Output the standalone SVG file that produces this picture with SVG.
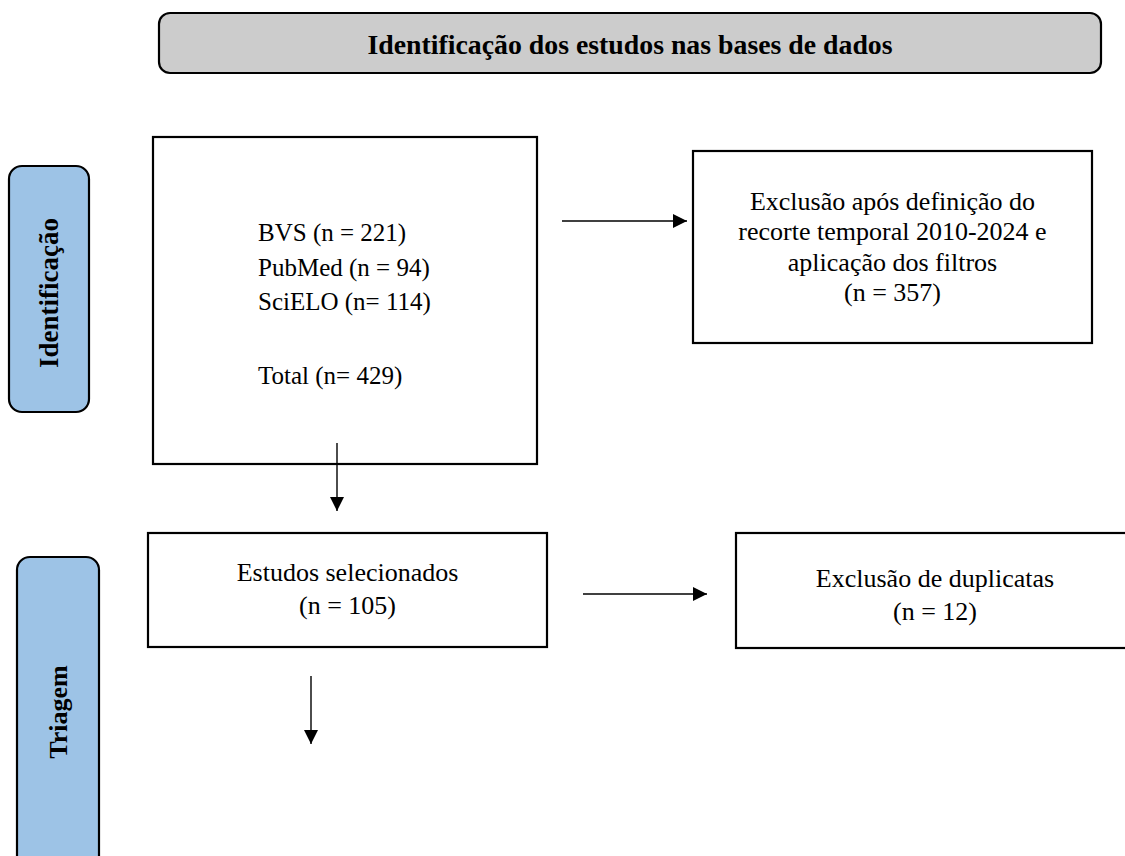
<svg xmlns="http://www.w3.org/2000/svg" width="1125" height="856" viewBox="0 0 1125 856">
<style>
.box{fill:#ffffff;stroke:#000;stroke-width:2.2}
.banner{fill:#cccccc;stroke:#000;stroke-width:2.2}
.side{fill:#9dc3e6;stroke:#000;stroke-width:2.2}
.t{font-family:"Liberation Serif","Times New Roman",serif;font-size:26px;fill:#000}
.b{font-family:"Liberation Serif","Times New Roman",serif;font-size:26px;font-weight:bold;fill:#000}
.c{text-anchor:middle}
.conn line{stroke:#000;stroke-width:1.4;fill:none}
</style>
<defs>
<marker id="ah" markerUnits="userSpaceOnUse" markerWidth="16" markerHeight="16" refX="14" refY="7" orient="auto">
<path d="M0,0 L14,7 L0,14 Z" fill="#000"/>
</marker>
</defs>
<rect width="1125" height="856" fill="#ffffff"/>
<g id="banner">
<rect class="banner" x="159" y="13" width="942" height="60" rx="11"/>
<text class="b c" x="630" y="54" style="font-size:27.8px">Identificação dos estudos nas bases de dados</text>
</g>
<g id="label-identificacao">
<rect class="side" x="9" y="166" width="80" height="246" rx="13"/>
<text class="b c" transform="translate(58,293) rotate(-90)" style="font-size:27px">Identificação</text>
</g>
<g id="label-triagem">
<rect class="side" x="17" y="557" width="82" height="330" rx="13"/>
<text class="b c" transform="translate(67,712) rotate(-90)">Triagem</text>
</g>
<g id="node-bases">
<rect class="box" x="153" y="137" width="384" height="327"/>
<text class="t" x="258" y="241" style="font-size:25px">BVS (n = 221)</text>
<text class="t" x="258" y="275.5" style="font-size:25px">PubMed (n = 94)</text>
<text class="t" x="258" y="310" style="font-size:25px">SciELO (n= 114)</text>
<text class="t" x="258" y="384" style="font-size:25px">Total (n= 429)</text>
</g>
<g id="node-exclusao-filtros">
<rect class="box" x="693" y="151" width="399" height="192"/>
<text class="t c" x="892.5" y="210">Exclusão após definição do</text>
<text class="t c" x="892.5" y="240">recorte temporal 2010-2024 e</text>
<text class="t c" x="892.5" y="270.5">aplicação dos filtros</text>
<text class="t c" x="892.5" y="300.5">(n = 357)</text>
</g>
<g id="node-selecionados">
<rect class="box" x="148" y="533" width="399" height="114"/>
<text class="t c" x="347.5" y="581">Estudos selecionados</text>
<text class="t c" x="347.5" y="614">(n = 105)</text>
</g>
<g id="node-duplicatas">
<rect class="box" x="736" y="533" width="400" height="115"/>
<text class="t c" x="935" y="587">Exclusão de duplicatas</text>
<text class="t c" x="935" y="620">(n = 12)</text>
</g>
<g id="connectors" class="conn">
<line x1="562" y1="221" x2="687" y2="221" marker-end="url(#ah)"/>
<line x1="337" y1="443" x2="337" y2="511" marker-end="url(#ah)"/>
<line x1="583" y1="594" x2="707" y2="594" marker-end="url(#ah)"/>
<line x1="311" y1="676" x2="311" y2="744" marker-end="url(#ah)"/>
</g>
</svg>
